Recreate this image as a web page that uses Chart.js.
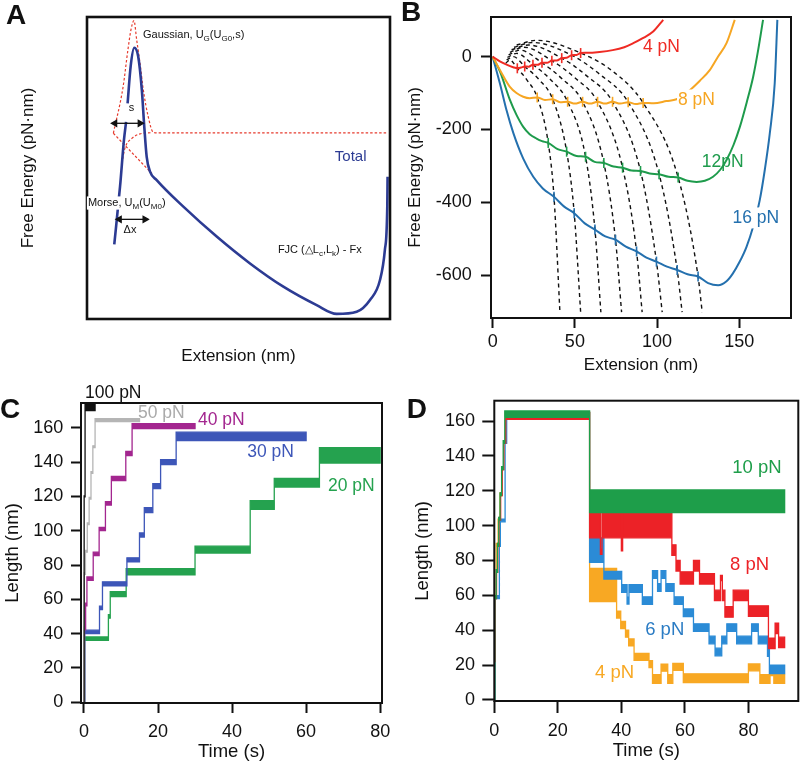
<!DOCTYPE html>
<html>
<head>
<meta charset="utf-8">
<title>Free energy landscape and unfolding traces</title>
<script src="https://cdn.jsdelivr.net/npm/chart.js@4.4.1/dist/chart.umd.min.js"></script>
<style>
  body { margin: 0; background: #fff; }
  #wrap { position: relative; width: 800px; height: 764px; }
  canvas { position: absolute; }
</style>
</head>
<body>
<div id="wrap">
  <canvas id="panelA" width="400" height="380" style="left:0;top:0"></canvas>
  <canvas id="panelB" width="400" height="380" style="left:400px;top:0"></canvas>
  <canvas id="panelC" width="400" height="384" style="left:0;top:380px"></canvas>
  <canvas id="panelD" width="400" height="384" style="left:400px;top:380px"></canvas>
</div>
<script>
const FONT = 'Arial, "Liberation Sans", Helvetica, sans-serif'

// ---------- A : sketch, box runs 0..100 both ways ----------
const totalX = [9.0, 10.9, 12.2, 12.9, 13.1, 13.4, 14.4, 15.6, 16.9, 18.1, 18.9, 19.7, 20.8, 23.0, 31.8, 42.8, 53.8, 64.8, 75.8, 82.4, 89.0, 93.4, 96.7, 98.3, 99.1, 99.2]
const totalY = [24.7, 43.8, 59.3, 65.3, null, 71.4, 83.6, 89.8, 86.9, 75.8, 63.7, 53.7, 48.8, 46.0, 37.2, 27.3, 18.4, 10.7, 4.6, 1.7, 2.4, 6.3, 12.9, 22.8, 37.2, 47.1]
const gaussX = [8.7, 11.9, 13.5, 14.5, 15.5, 16.4, 17.5, 18.6, 20.2, 21.9, 24.0, 99.3]
const gaussY = [61.5, 76.8, 89.1, 95.7, 98.8, 92.4, 84.7, 75.8, 67.0, 61.8, 61.6, 61.6]
const diagX = [8.7, 21.4]
const diagY = [61.5, 48.2]
const morseX = [11.5, 12.5, 14.8, 17.5, 21.4]
const morseY = [51.6, 56.5, 59.8, 61.3, 61.7]
const sArrowX = [9.2, 17.5]
const sArrowY = [64.8, 64.8]
const dxArrowX = [10.7, 19.1]
const dxArrowY = [33.0, 33.0]

// ---------- B : tilted landscapes ----------
const bTicksX = [0, 50, 100, 150]
const bTicksY = [-600, -400, -200, 0]
const ext4 = [0, 4.4, 8.5, 12.5, 15, 17.3, 19.5, 22, 24.5, 27.3, 30, 33, 36, 39, 42, 45, 48, 51, 53.5, 57, 65, 73, 80, 85.5, 91, 97.6, 103.7]
const fe4 = [0, -13, -22, -29, -32, -30, -27, -27.5, -22, -22.5, -17, -17, -11, -10.5, -4, -3, 4, 4.5, 10, 10.5, 13, 18, 26, 37, 50, 69, 101]
const ext8 = [0, 4.5, 10.5, 14.5, 18.6, 22.5, 27.1, 31.8, 36.5, 41, 45.6, 50, 54.7, 59.3, 63.8, 68.3, 72.9, 77.6, 82.4, 87, 91.5, 98, 105.7, 111.8, 116, 119.9, 126, 132, 137, 142.2, 147.2]
const fe8 = [0, -37, -83, -100, -110, -114, -112, -119, -117, -125, -124, -129, -124, -129, -124, -129, -124, -129, -125, -130, -127, -128, -122, -117, -105, -92, -66, -37, 0, 37, 101]
const ext12 = [0, 4.5, 10.5, 14.5, 18.6, 22.5, 26.7, 30, 33.8, 39.5, 45, 51, 56.5, 62, 67.6, 73.5, 79, 84.5, 89.9, 95.5, 101.2, 107, 112.8, 118.5, 124, 129, 134, 138.5, 142.2, 146.5, 150.3, 154.5, 158.4, 161.5, 164.4]
const fe12 = [0, -41, -119, -160, -193, -213, -225, -232, -237, -254, -261, -273, -275, -289, -292, -302, -305, -313, -314, -321, -323, -330, -332, -341, -344, -341, -330, -310, -284, -242, -193, -125, -55, 20, 101]
const ext16 = [0, 4.5, 8.5, 12.6, 18.6, 24.7, 30.5, 37.3, 43.5, 49.6, 56, 62.2, 68.5, 74.7, 81, 87.5, 93.5, 99.6, 106, 112.2, 118.5, 124.9, 131, 137.1, 142, 146, 150, 154.3, 158.5, 162.4, 165.5, 168.5, 171.5, 173.1]
const fe16 = [0, -75, -148, -210, -280, -330, -362, -385, -412, -430, -458, -475, -494, -503, -522, -535, -552, -563, -577, -586, -598, -604, -622, -628, -618, -596, -565, -523, -465, -394, -310, -211, -73, 101]

// where the dashed barrier curves cross each force curve
const tick4X = [15, 19.5, 24.5, 30, 36, 42, 48, 53.5]
const tick4Y = [-32, -27, -22, -17, -11, -4, 4, 10]
const tick8X = [27.1, 36.5, 45.6, 54.7, 63.8, 72.9, 82.4, 91.5]
const tick8Y = [-112, -117, -124, -124, -124, -124, -125, -127]
const tick12X = [33.8, 45, 56.5, 67.6, 79, 89.9, 101.2, 112.8]
const tick12Y = [-237, -261, -275, -292, -305, -314, -323, -332]
const tick16X = [37.3, 49.6, 62.2, 74.7, 87.5, 99.6, 112.2, 124.9]
const tick16Y = [-385, -430, -475, -503, -535, -563, -586, -604]

const dashStartX = [8, 8.5, 9, 9.7, 10.5, 11.5, 13, 14.6]
const dashStartY = [-18, -9, -2, 5, 12, 19, 26, 32]
const dashPeakX = [10.4, 12.6, 14.6, 16.6, 19, 21.7, 24.3, 26.7]
const dashPeakY = [-9, 0, 9, 18, 26, 32, 39, 45]
const dashMidX = [21, 28, 35, 42, 50, 57, 65, 73]
const dashMidY = [-65, -62, -62, -60, -58, -52, -48, -40]
const dashEndX = [40.9, 53.5, 65.8, 78.4, 90.9, 103.1, 115.2, 127.4]
const dashEndY = [-702, -702, -702, -702, -702, -702, -702, -702]

// ---------- C : unfolding at constant force, steps [start times.., end], level, noise ----------
const cTicksX = [0, 20, 40, 60, 80]
const cTicksY = [0, 20, 40, 60, 80, 100, 120, 140, 160]
const c100Times = [0, 0.05, 0.3, 3.0]
const c100Levels = [0, 120, 172]
const c100Noise = [0, 0.3, 2]
const c50Times = [0, 0.1, 0.4, 0.9, 1.4, 1.9, 2.4, 3.0, 15]
const c50Levels = [0, 75, 88, 104, 119, 134, 149, 164.5]
const c50Noise = [0, 0.5, 0.5, 0.5, 0.5, 0.5, 0.5, 0.9]
const c40Times = [0, 0.15, 0.45, 0.8, 2.5, 4.1, 5.8, 7.4, 11.3, 13, 30]
const c40Levels = [0, 43, 57, 72, 86.5, 101, 116, 130.5, 145, 161]
const c40Noise = [0, 0.8, 0.8, 1, 1, 1, 1, 1.2, 1.2, 1.5]
const c30Times = [0, 0.2, 4.2, 5, 11.6, 15, 16.3, 18.6, 20.7, 24.9, 60]
const c30Levels = [0, 41, 55, 69, 83, 97.5, 112, 126, 140, 155]
const c30Noise = [0, 1, 1, 1.2, 1.2, 1.2, 1.5, 1.5, 1.5, 2.5]
const c20Times = [0, 0.2, 6.6, 7.1, 11.4, 30, 44.9, 51.4, 63.6, 80]
const c20Levels = [0, 37, 50, 63, 76, 89, 115, 128, 144]
const c20Noise = [0, 1, 1, 1.5, 1.8, 2, 2.5, 2.5, 4.5]

// ---------- D : unfold at high force, then drop to low force ----------
const dTicksX = [0, 20, 40, 60, 80]
const dTicksY = [0, 20, 40, 60, 80, 100, 120, 140, 160]
const d10Times = [0, 0.15, 0.6, 1.0, 1.4, 1.8, 2.3, 2.8, 3.3, 30, 91.4]
const d10Levels = [0, 59, 74, 89, 104, 118, 133, 148, 164, 114]
const d10Noise = [0, 0.8, 0.8, 0.8, 0.8, 0.8, 0.8, 0.8, 1.8, 6.5]
const d8Times = [0, 0.2, 0.7, 1.1, 1.5, 2.0, 2.5, 3.0, 3.6, 30, 33.4, 33.9, 40.0, 40.4, 55.9, 57.2, 58.5, 62.7, 64.6, 69.3, 71.2, 71.8, 72.6, 75.2, 80, 86.3, 88.4, 89.5, 91.4]
const d8Levels = [22, 59, 74, 89, 104, 118, 133, 148, 163, 100, 85, 100, 87, 100, 86, 77, 70, 77, 69.5, 60, 70, 60, 50.5, 60, 51, 32.5, 41, 33]
const d8Noise = [0, 0.8, 0.8, 0.8, 0.8, 0.8, 0.8, 0.8, 2, 7, 1.5, 7, 1.5, 7, 3, 3, 3.5, 3, 3, 3, 1.5, 3, 3, 3, 3, 3, 3, 3]
const d6Times = [0, 0.2, 1.6, 1.9, 3.4, 3.9, 30, 34.5, 40.1, 41.8, 42.4, 46.6, 49.8, 51.4, 52.5, 54, 56.6, 59.5, 62.7, 67.6, 69.5, 71.6, 73.2, 76.3, 81, 83.1, 86, 86.6, 91.4]
const d6Levels = [0, 59, 89, 103, 148, 163, 86, 71.6, 64, 57, 64, 57, 72, 64.5, 72, 64.5, 57, 50, 41.5, 34.4, 27.5, 34.4, 41.5, 34.4, 41.5, 34.4, 27, 17.5]
const d6Noise = [0, 0.8, 0.8, 0.8, 0.8, 2, 7, 2.2, 2.2, 2, 2.2, 2.2, 2.2, 2.2, 2.2, 2.2, 2.2, 2.2, 2.2, 2.2, 2.2, 2.2, 2.2, 2.2, 2.2, 2.2, 2, 2.4]
const d4Times = [0, 0.15, 0.6, 1.2, 1.8, 2.4, 3.0, 3.5, 30, 38.5, 39.8, 41.3, 42.3, 44, 48.7, 49.8, 52.5, 54.6, 56.2, 59.5, 80, 83.6, 86.8, 88, 91.4]
const d4Levels = [0, 59, 89, 103, 118, 133, 148, 163, 66, 49, 43, 38, 33, 24.7, 20.5, 12, 18.5, 12, 19, 12.5, 18.7, 12, 16, 12]
const d4Noise = [0, 0.8, 0.8, 0.8, 0.8, 0.8, 0.8, 2, 9.5, 2, 2, 2, 2, 2, 2, 2.5, 2, 2.5, 2, 2.5, 2, 2.5, 2, 2.5]


function pts(xs, ys) {
  return xs.map((x, i) => ({ x: x, y: ys[i] }))
}

// closed outline of a noisy step trace: top edge forward, bottom edge back
function band(times, levels, noise) {
  let up = [], down = []
  for (let i = 0; i < levels.length; i++) {
    up.push({ x: times[i], y: levels[i] + noise[i] }, { x: times[i + 1], y: levels[i] + noise[i] })
    down.push({ x: times[i], y: levels[i] - noise[i] }, { x: times[i + 1], y: levels[i] - noise[i] })
  }
  return up.concat(down.reverse())
}

function trace(data, color) {
  return { data: data, borderColor: color, backgroundColor: color, borderWidth: 1.3, fill: 'shape', tension: 0, pointRadius: 0 }
}

function curve(data, color, width, dash) {
  return { data: data, borderColor: color, borderWidth: width, borderDash: dash || [], fill: false, cubicInterpolationMode: 'monotone', pointRadius: 0 }
}

function drawNote(ctx, note, x, y) {
  let size = note.size
  let parts = typeof note.text === 'string' ? [[note.text, 0]] : note.text
  let big = (note.bold ? 'bold ' : '') + size + 'px ' + FONT
  let small = Math.round(size * 0.72) + 'px ' + FONT
  ctx.save()
  ctx.textBaseline = 'middle'
  ctx.textAlign = 'left'
  let w = 0
  parts.forEach(p => { ctx.font = p[1] ? small : big; w += ctx.measureText(p[0]).width })
  let left = note.align === 'center' ? x - w / 2 : x
  if (note.bg) {
    ctx.fillStyle = '#fff'
    ctx.fillRect(left - 1, y - size * 0.6, w + 2, size * 1.2)
  }
  ctx.fillStyle = note.color || '#111'
  parts.forEach(p => {
    ctx.font = p[1] ? small : big
    ctx.fillText(p[0], left, p[1] ? y + size * 0.32 : y)
    left += ctx.measureText(p[0]).width
  })
  ctx.restore()
}

// box around the plot, then the labels
function decor(frameWidth, notes) {
  return {
    id: 'decor',
    afterDraw(chart) {
      let ctx = chart.ctx, a = chart.chartArea
      ctx.save()
      ctx.strokeStyle = '#111'
      ctx.lineWidth = frameWidth
      ctx.strokeRect(a.left, a.top, a.right - a.left, a.bottom - a.top)
      ctx.restore()
      notes.forEach(n => {
        let x = n.px ? n.x : chart.scales.x.getPixelForValue(n.x)
        let y = n.px ? n.y : chart.scales.y.getPixelForValue(n.y)
        drawNote(ctx, n, x, y)
      })
    }
  }
}

function axis(o) {
  let show = !!o.ticks
  return {
    type: 'linear',
    min: o.min,
    max: o.max,
    afterBuildTicks: function (s) {
      if (show) s.ticks = o.ticks.map(v => ({ value: v }))
    },
    afterFit: function (s) {
      if (o.side === 'y') s.width = o.size
      else s.height = o.size
      s.paddingTop = 0; s.paddingBottom = 0; s.paddingLeft = 0; s.paddingRight = 0
    },
    border: { display: false },
    grid: { display: show, drawOnChartArea: false, drawTicks: true, tickLength: o.tickLen || 10, tickWidth: 2, tickColor: '#111' },
    ticks: { display: show, padding: o.tickPad || 0, color: '#111', font: { family: FONT, size: 18 } },
    title: {
      display: true, text: o.title, color: '#111',
      font: { family: FONT, size: o.titleSize },
      padding: o.side === 'y' ? { top: o.titlePad, bottom: 0 } : { top: 0, bottom: o.titlePad }
    }
  }
}

function baseOptions(pad, x, y) {
  return {
    responsive: false,
    animation: false,
    events: [],
    layout: { padding: pad },
    elements: { point: { radius: 0 } },
    plugins: { legend: { display: false }, tooltip: { enabled: false } },
    scales: { x: x, y: y }
  }
}


// ---------------- panel A ----------------
let arrowHead = { pointStyle: 'triangle', pointRadius: 3.5, pointRotation: [-90, 90], pointBackgroundColor: '#111', pointBorderColor: '#111', borderColor: '#111', borderWidth: 1.3, fill: false }

new Chart(document.getElementById('panelA'), {
  type: 'line',
  data: {
    datasets: [
      Object.assign({ data: pts(sArrowX, sArrowY) }, arrowHead),
      Object.assign({ data: pts(dxArrowX, dxArrowY) }, arrowHead),
      curve(pts(totalX, totalY), '#2c3b93', 2.6),
      curve(pts(gaussX, gaussY), '#e63b2e', 1.2, [2.5, 2]),
      curve(pts(diagX, diagY), '#e63b2e', 1.2, [2.5, 2]),
      curve(pts(morseX, morseY), '#e63b2e', 1.2, [2.5, 2])
    ]
  },
  options: baseOptions({ left: 0, top: 17, right: 10, bottom: 0 },
    axis({ side: 'x', min: 0, max: 100, size: 61, title: 'Extension (nm)', titleSize: 17, titlePad: 13.8 }),
    axis({ side: 'y', min: 0, max: 100, size: 87, title: 'Free Energy (pN·nm)', titleSize: 17, titlePad: 17.8 })),
  plugins: [decor(2.6, [
    { text: 'A', x: 6, y: 16.5, px: true, size: 28, bold: true },
    { text: [['Gaussian, U', 0], ['G', 1], ['(U', 0], ['G0', 1], [',s)', 0]], x: 18.5, y: 94, size: 11 },
    { text: 's', x: 14.7, y: 69.8, size: 11, align: 'center' },
    { text: 'Total', x: 81.8, y: 53.6, size: 15, color: '#2c3b93' },
    { text: [['Morse, U', 0], ['M', 1], ['(U', 0], ['M0', 1], [')', 0]], x: 0.3, y: 38.4, size: 11, bg: true },
    { text: 'Δx', x: 14.2, y: 29.5, size: 11, align: 'center' },
    { text: [['FJC (△L', 0], ['c', 1], [',L', 0], ['k', 1], [') - Fx', 0]], x: 63, y: 22.8, size: 11 }
  ])]
})


// ---------------- panel B ----------------
const RED_B = '#ef2b24', ORANGE_B = '#f6a623', GREEN_B = '#1e9b4c', BLUE_B = '#2470ae'

function ticks(xs, ys, color) {
  return { data: pts(xs, ys), showLine: false, pointStyle: 'line', pointRotation: 90, pointRadius: 5, pointBorderWidth: 1.6, pointBorderColor: color }
}

let barrierSets = []
for (let i = 0; i < dashEndX.length; i++) {
  let xs = [dashStartX[i], dashPeakX[i], tick4X[i], dashMidX[i], tick8X[i], tick12X[i], tick16X[i], dashEndX[i]]
  let ys = [dashStartY[i], dashPeakY[i], tick4Y[i], dashMidY[i], tick8Y[i], tick12Y[i], tick16Y[i], dashEndY[i]]
  barrierSets.push(curve(pts(xs, ys), '#111', 1.4, [4, 3.5]))
}

new Chart(document.getElementById('panelB'), {
  type: 'line',
  data: {
    datasets: [
      ticks(tick4X, tick4Y, RED_B),
      ticks(tick8X, tick8Y, ORANGE_B),
      ticks(tick12X, tick12Y, GREEN_B),
      ticks(tick16X, tick16Y, BLUE_B),
      curve(pts(ext4, fe4), RED_B, 2),
      curve(pts(ext8, fe8), ORANGE_B, 2),
      curve(pts(ext12, fe12), GREEN_B, 2),
      curve(pts(ext16, fe16), BLUE_B, 2)
    ].concat(barrierSets)
  },
  options: baseOptions({ left: 0, top: 17, right: 9, bottom: 0 },
    axis({ side: 'x', min: -1, max: 181.4, ticks: bTicksX, size: 62, tickPad: 3.2, title: 'Extension (nm)', titleSize: 17, titlePad: 4.8 }),
    axis({ side: 'y', min: -718, max: 109, ticks: bTicksY, size: 91, tickPad: 9.3, title: 'Free Energy (pN·nm)', titleSize: 17, titlePad: 4.8 })),
  plugins: [decor(2, [
    { text: 'B', x: 1, y: 13, px: true, size: 28, bold: true },
    { text: '4 pN', x: 91.4, y: 27, size: 17.5, color: RED_B },
    { text: '8 pN', x: 112.7, y: -119, size: 17.5, color: ORANGE_B, bg: true },
    { text: '12pN', x: 127.2, y: -289, size: 17.5, color: GREEN_B },
    { text: '16 pN', x: 145.8, y: -443, size: 17.5, color: BLUE_B, bg: true }
  ])]
})


// ---------------- panel C ----------------
new Chart(document.getElementById('panelC'), {
  type: 'line',
  data: {
    datasets: [
      trace(band(c100Times, c100Levels, c100Noise), '#111111'),
      trace(band(c50Times, c50Levels, c50Noise), '#b5b5b5'),
      trace(band(c40Times, c40Levels, c40Noise), '#a3268f'),
      trace(band(c30Times, c30Levels, c30Noise), '#3d56b8'),
      trace(band(c20Times, c20Levels, c20Noise), '#25a24f')
    ]
  },
  options: baseOptions({ left: 0, top: 23, right: 18, bottom: 0 },
    axis({ side: 'x', min: -0.8, max: 80.5, ticks: cTicksX, size: 61, tickPad: 7.9, title: 'Time (s)', titleSize: 18.5, titlePad: 1.2 }),
    axis({ side: 'y', min: -0.5, max: 174.5, ticks: cTicksY, size: 81, tickPad: 7.7, title: 'Length (nm)', titleSize: 18.5, titlePad: 2.2 })),
  plugins: [decor(2, [
    { text: 'C', x: 0, y: 30, px: true, size: 28, bold: true },
    { text: '100 pN', x: 0.3, y: 180.4, size: 17.5, color: '#111' },
    { text: '50 pN', x: 14.6, y: 168.7, size: 17.5, color: '#aaaaaa' },
    { text: '40 pN', x: 30.8, y: 164.7, size: 17.5, color: '#a3268f' },
    { text: '30 pN', x: 44.1, y: 146, size: 17.5, color: '#3d56b8' },
    { text: '20 pN', x: 65.9, y: 125.7, size: 17.5, color: '#25a24f' }
  ])]
})


// ---------------- panel D ----------------
new Chart(document.getElementById('panelD'), {
  type: 'line',
  data: {
    datasets: [
      trace(band(d10Times, d10Levels, d10Noise), '#1e9e4a'),
      trace(band(d8Times, d8Levels, d8Noise), '#ec2227'),
      trace(band(d6Times, d6Levels, d6Noise), '#2b8bd6'),
      trace(band(d4Times, d4Levels, d4Noise), '#f8a823')
    ]
  },
  options: baseOptions({ left: 0, top: 20.7, right: 1.7, bottom: 0 },
    axis({ side: 'x', min: 0, max: 95.7, ticks: dTicksX, size: 63, tickLen: 12, tickPad: 6.9, title: 'Time (s)', titleSize: 18.5, titlePad: 2.2 }),
    axis({ side: 'y', min: -0.6, max: 171.7, ticks: dTicksY, size: 94.3, tickLen: 12, tickPad: 7.3, title: 'Length (nm)', titleSize: 18.5, titlePad: 12.2 })),
  plugins: [decor(2, [
    { text: 'D', x: 6.7, y: 30, px: true, size: 28, bold: true },
    { text: '10 pN', x: 74.9, y: 133.4, size: 18.5, color: '#1e9e4a' },
    { text: '8 pN', x: 74.2, y: 77.3, size: 18.5, color: '#ec2227' },
    { text: '6 pN', x: 47.5, y: 40.1, size: 18.5, color: '#2b7cc4' },
    { text: '4 pN', x: 31.7, y: 15.5, size: 18.5, color: '#f8a823' }
  ])]
})
</script>
</body>
</html>
